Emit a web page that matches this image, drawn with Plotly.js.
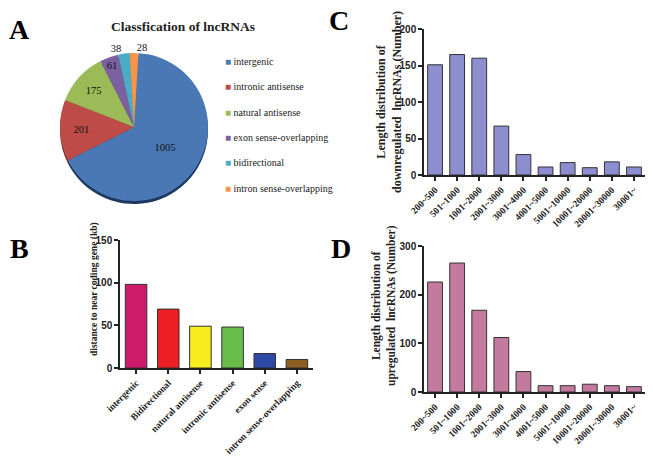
<!DOCTYPE html>
<html><head><meta charset="utf-8">
<script src="https://cdn.plot.ly/plotly-3.0.1.min.js"></script>
<style>html,body{margin:0;padding:0;background:#fff}#chart{width:653px;height:461px}</style>
</head><body><div id="chart"></div>
<script>
// ---- Panel A: classification of lncRNAs ----
const pieLabels = ['intergenic','intronic antisense','natural antisense','exon sense-overlapping','bidirectional','intron sense-overlapping'];
const pieValues = [1005, 201, 175, 61, 38, 28];
const pieColors = ['#4A78B4','#BE4B48','#9BBB59','#7D60A0','#4BACC6','#F79646'];
const pieShadow = ['#1E3860','#6E2523','#5A7030','#453360','#23687A','#9A5520'];
// ---- Panel B: distance to near coding gene ----
const distCats = ['intergenic','Bidirectional','natural antisense','intronic antisense','exon sense','intron sense-overlapping'];
const distValues = [98, 69, 49, 48, 17, 10];
const distColors = ['#CD1A69','#ED1E24','#F7ED1E','#68BE48','#2D48A5','#8C5E23'];
// ---- Panels C, D: length distribution ----
const lenCats = ['200~500','501~1000','1001~2000','2001~3000','3001~4000','4001~5000','5001~10000','10001~20000','20001~30000','30001~'];
const downValues = [151, 165, 160, 67, 28, 11, 17, 10, 18, 11];
const upValues = [226, 265, 168, 112, 42, 13, 13, 16, 13, 11];

const W = 653, H = 461;
const px = x => x / W;
const py = y => 1 - y / H;
const serif = 'Liberation Serif, Times New Roman, serif';
const sans = 'Liberation Sans, Arial, sans-serif';

const pieCx = 134, pieCy = 127, pieR = 74, pieRot = 3.4;
const traces = [
  { type:'pie', labels:pieLabels, values:pieValues, sort:false, direction:'clockwise', rotation:pieRot,
    marker:{colors:pieShadow}, textinfo:'none', hoverinfo:'skip', showlegend:false,
    domain:{x:[px(pieCx-pieR), px(pieCx+pieR)], y:[py(pieCy+3+pieR), py(pieCy+3-pieR)]} },
  { type:'pie', labels:pieLabels, values:pieValues, sort:false, direction:'clockwise', rotation:pieRot,
    marker:{colors:pieColors}, textinfo:'value', insidetextorientation:'horizontal',
    textposition:['inside','inside','inside','inside','outside','outside'],
    textfont:{family:serif, size:10.5, color:'#111'}, showlegend:false,
    domain:{x:[px(pieCx-pieR), px(pieCx+pieR)], y:[py(pieCy+pieR), py(pieCy-pieR)]} },
  { type:'bar', x:distCats, y:distValues, xaxis:'x', yaxis:'y',
    marker:{color:distColors, line:{color:'#333', width:1}}, showlegend:false },
  { type:'bar', x:lenCats, y:downValues, xaxis:'x2', yaxis:'y2',
    marker:{color:'#8C8ED0', line:{color:'#333', width:1}}, showlegend:false },
  { type:'bar', x:lenCats, y:upValues, xaxis:'x3', yaxis:'y3',
    marker:{color:'#C47A9F', line:{color:'#333', width:1}}, showlegend:false }
];

const xCommon = { type:'category', showline:true, linecolor:'#222', linewidth:1.5, ticks:'outside', ticklen:4,
  tickwidth:1.5, tickcolor:'#222', tickangle:-45, showgrid:false, zeroline:false, fixedrange:true,
  tickfont:{family:serif, size:9.5, weight:'bold', color:'#222'} };
const yCommon = { showline:true, linecolor:'#222', linewidth:1.5, ticks:'outside', ticklen:4, tickwidth:1.5,
  tickcolor:'#222', showgrid:false, zeroline:false, fixedrange:true,
  tickfont:{family:sans, size:10, weight:'bold', color:'#222'} };

const annotations = [
  {text:'A', x:px(19), y:py(30)}, {text:'B', x:px(19), y:py(248)},
  {text:'C', x:px(339), y:py(21)}, {text:'D', x:px(341), y:py(249)}
].map(a => Object.assign(a, {xref:'paper', yref:'paper', showarrow:false, xanchor:'center', yanchor:'middle',
  font:{family:serif, size:28, weight:'bold', color:'#000'}}));

annotations.push({text:'Classfication of lncRNAs', x:px(183), y:py(27), xref:'paper', yref:'paper', showarrow:false,
  xanchor:'center', yanchor:'middle', font:{family:serif, size:13.5, weight:'bold', color:'#222'}});
annotations.push({text:'distance to near coding gene (kb)', x:px(94), y:py(289), textangle:-90, xref:'paper', yref:'paper',
  showarrow:false, xanchor:'center', yanchor:'middle', font:{family:serif, size:9.5, weight:'bold', color:'#222'}});
annotations.push({text:'Length distribution of<br>downregulated  lncRNAs (Number)', x:px(389), y:py(102), textangle:-90,
  xref:'paper', yref:'paper', showarrow:false, xanchor:'center', yanchor:'middle',
  font:{family:serif, size:12, weight:'bold', color:'#222'}});
annotations.push({text:'Length distribution of<br>upregulated  lncRNAs (Number)', x:px(384), y:py(306), textangle:-90,
  xref:'paper', yref:'paper', showarrow:false, xanchor:'center', yanchor:'middle',
  font:{family:serif, size:11.5, weight:'bold', color:'#222'}});

// legend for panel A
pieLabels.forEach((lab, i) => {
  annotations.push({text:'<span style="color:' + pieColors[i] + '">■</span> ' + lab,
    x:px(223), y:py(61.5 + 25.3 * i), xref:'paper', yref:'paper', showarrow:false, xanchor:'left', yanchor:'middle',
    font:{family:'Liberation Serif', size:10, color:'#222'}});
});

const layout = {
  width:W, height:H, margin:{l:0, r:0, t:0, b:0}, paper_bgcolor:'#fff', plot_bgcolor:'#fff',
  showlegend:false, bargap:0.33,
  xaxis:Object.assign({}, xCommon, {domain:[px(120), px(313)], anchor:'y', range:[-0.5, 5.5]}),
  yaxis:Object.assign({}, yCommon, {domain:[py(368), py(240)], anchor:'x', range:[0,150], dtick:50}),
  xaxis2:Object.assign({}, xCommon, {domain:[px(424), px(645)], anchor:'y2', range:[-0.5, 9.5]}),
  yaxis2:Object.assign({}, yCommon, {domain:[py(175), py(29)], anchor:'x2', range:[0,200], dtick:50}),
  xaxis3:Object.assign({}, xCommon, {domain:[px(424), px(645)], anchor:'y3', range:[-0.5, 9.5]}),
  yaxis3:Object.assign({}, yCommon, {domain:[py(392), py(246)], anchor:'x3', range:[0,300], dtick:100}),
  annotations:annotations
};

Plotly.newPlot('chart', traces, layout, {displayModeBar:false, responsive:false});
</script></body></html>
